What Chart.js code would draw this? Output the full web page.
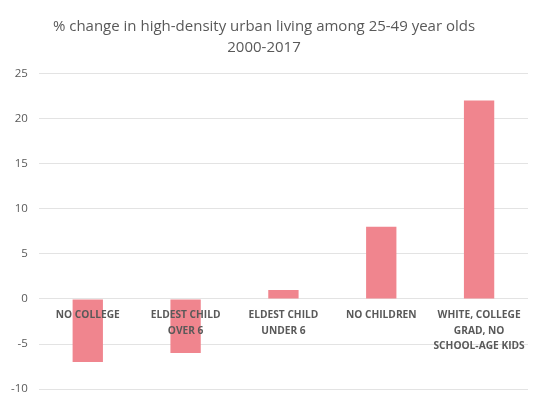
<!DOCTYPE html>
<html>
<head>
<meta charset="utf-8">
<script src="https://cdn.jsdelivr.net/npm/chart.js@4.4.0/dist/chart.umd.min.js"></script>
<style>
  html, body { margin: 0; padding: 0; background: #fff; }
  #wrap { width: 540px; height: 407px; }
</style>
</head>
<body>
<div id="wrap"><canvas id="mycanvas"></canvas></div>
<script>
// data
var categories = [
  ["NO COLLEGE"],
  ["ELDEST CHILD", "OVER 6"],
  ["ELDEST CHILD", "UNDER 6"],
  ["NO CHILDREN"],
  ["WHITE, COLLEGE", "GRAD, NO", "SCHOOL-AGE KIDS"]
];
var changeValues = [-7, -6, 1, 8, 22];
var titleLines = ["% change in high-density urban living among 25-49 year olds", "2000-2017"];

var gray = "#595959";

var chartdata = {
  labels: categories,
  datasets: [
    {
      label: "% change",
      data: changeValues,
      backgroundColor: "#F0858E",
      borderWidth: 0,
      barPercentage: 1,
      categoryPercentage: 0.31
    }
  ]
};

var ctx = document.getElementById("mycanvas");

var BarGraph = new Chart(ctx, {
  type: 'bar',
  data: chartdata,
  options: {
    responsive: true,
    maintainAspectRatio: false,
    animation: false,
    layout: {
      padding: { left: 0, right: 12, top: 13, bottom: 17 }
    },
    scales: {
      x: {
        position: { y: 0 },
        grid: { display: false, drawTicks: false },
        border: { display: false },
        ticks: {
          z: 1, // labels go over the bars, like the original
          color: gray,
          padding: 9,
          maxRotation: 0,
          autoSkip: false,
          font: { family: "'Open Sans'", size: 10.2, weight: 'bold', lineHeight: 1.5 }
        },
        // labels sit on the zero line, so don't reserve room at the bottom
        afterFit: function(scale) { scale.height = 0; }
      },
      y: {
        min: -10,
        max: 25,
        ticks: {
          stepSize: 5,
          color: gray,
          padding: 11,
          font: { family: "'Open Sans'", size: 11.5 }
        },
        grid: { color: "#e3e3e3", lineWidth: 1, drawTicks: false },
        border: { display: false }
      }
    },
    plugins: {
      title: {
        display: true,
        text: titleLines,
        color: gray,
        font: { family: "'Open Sans'", size: 15, weight: 'normal', lineHeight: 1.35 },
        padding: { top: 4, bottom: 16 }
      },
      legend: { display: false },
      tooltip: { enabled: false }
    }
  }
});
</script>
</body>
</html>
